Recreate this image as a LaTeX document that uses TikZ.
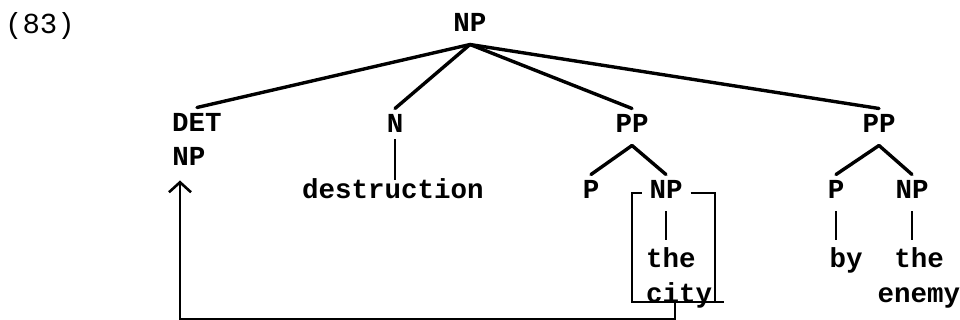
\documentclass[tikz,border=0pt]{standalone}
\usepackage{fontspec}
\setmonofont{Liberation Mono}
\usepackage{tikz}
\usetikzlibrary{arrows.meta, positioning}

\begin{document}
\begin{tikzpicture}[
    x=0.5pt, y=-0.5pt,
    cat/.style={font=\ttfamily\bfseries\fontsize{13.75}{17.5}\selectfont, inner sep=1pt, outer sep=3pt, text height=8pt, text depth=2.5pt},
    leaf/.style={font=\ttfamily\bfseries\fontsize{13.75}{17.5}\selectfont, inner sep=1pt, outer sep=3pt},
    branch/.style={line width=1.7pt, line cap=round},
    twig/.style={line width=1.2pt},
    arrow/.style={line width=1.2pt, -{Straight Barb[length=5pt,width=11pt,line width=1.3pt]}, shorten >=1pt}
]
\useasboundingbox (0,0) rectangle (960,320);

% Example number
\node[cat, font=\ttfamily\fontsize{14.5}{17.5}\selectfont] (num) at (40,28) {(83)};

% Root and daughters
\node[cat] (root) at (470,26) {NP};
\node[cat] (det) at (197,126) {DET};
\node[cat] (detnp) at (189,160) {NP};
\node[cat] (n) at (395,127) {N};
\node[cat] (pp1) at (632,127) {PP};
\node[cat] (pp2) at (879,127) {PP};

% Lower level
\node[cat] (destr) at (393,193) {destruction};
\node[cat] (p1) at (591,193) {P};
\node[cat] (bnp) at (666,193) {NP};
\node[cat] (p2) at (836,193) {P};
\node[cat] (np2) at (912,193) {NP};

% Leaves
\node[leaf, align=left, anchor=north west] (city) at (638,240) {the\\city};
\node[cat] (by) at (846,262) {by};
\node[leaf, align=center, anchor=north] (enemy) at (919,240) {the\\enemy};

% Branches
\foreach \c in {det,n,pp1,pp2} {
    \draw[branch] (root.south) -- (\c.north);
}
\foreach \c in {p1,bnp} {
    \draw[branch] (pp1.south) -- (\c.north);
}
\foreach \c in {p2,np2} {
    \draw[branch] (pp2.south) -- (\c.north);
}
\draw[twig, shorten <=-3pt, shorten >=-3pt] (n.south) -- (n.south |- destr.north);
\draw[twig] (bnp.south) -- (bnp.south |- city.north);
\draw[twig] (p2.south) -- (p2.south |- enemy.north);
\draw[twig] (np2.south) -- (np2.south |- enemy.north);

% Box round the moved NP
\coordinate (boxnw) at (632,192);
\coordinate (boxse) at (715,302);
\draw[twig] (bnp.west) -| (boxnw |- boxse) -- ++(92,0);
\draw[twig] (bnp.east) -| (boxse);

% Movement arrow
\coordinate (drop) at (675,302);
\coordinate (foot) at (180,319);
\draw[arrow] (drop) |- (foot) -- (foot |- detnp.south);

\end{tikzpicture}
\end{document}
